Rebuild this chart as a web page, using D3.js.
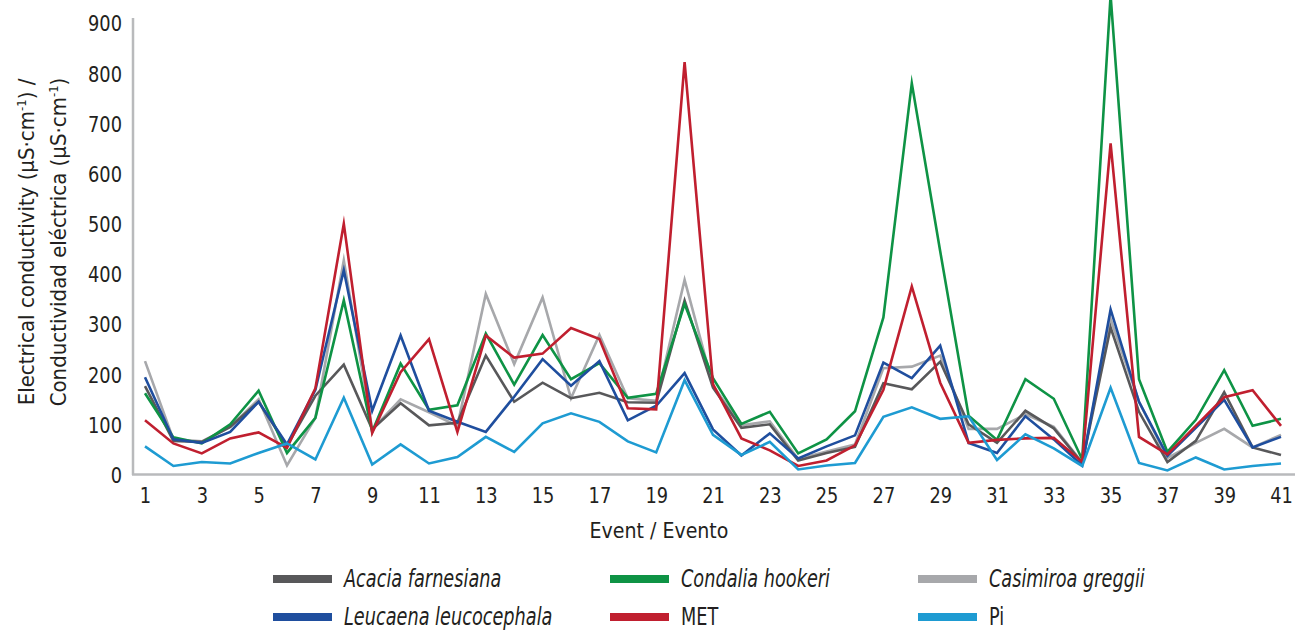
<!DOCTYPE html>
<html>
<head>
<meta charset="utf-8">
<script src="https://cdn.jsdelivr.net/npm/d3@7"></script>
<style>
  html, body { margin: 0; padding: 0; background: #fff; }
  svg { display: block; }
  text { font-family: "DejaVu Sans Condensed", "Liberation Sans Narrow", "Liberation Sans", sans-serif; fill: #231f20; }
</style>
</head>
<body>
<svg id="chart" width="1297" height="633"></svg>
<script>
const events = d3.range(1, 42);
const xTickLabels = d3.range(1, 42, 2);
const yTickLabels = [0, 100, 200, 300, 400, 500, 600, 700, 800, 900];

const acacia = [176, 67, 65, 95, 145, 57, 157, 219, 90, 142, 98, 103, 237, 145, 183, 152, 163, 144, 143, 347, 173, 93, 100, 28, 43, 55, 182, 170, 225, 100, 63, 127, 92, 23, 293, 125, 25, 67, 164, 54, 39];
const condalia = [162, 74, 62, 100, 167, 43, 113, 347, 85, 221, 129, 138, 281, 179, 278, 190, 222, 153, 161, 340, 192, 101, 125, 42, 70, 126, 313, 780, 445, 117, 69, 190, 151, 30, 955, 190, 45, 109, 208, 97, 111];
const casimiroa = [226, 70, 66, 95, 150, 18, 113, 427, 90, 150, 124, 97, 360, 220, 353, 152, 278, 152, 147, 388, 177, 98, 106, 31, 46, 60, 212, 215, 237, 91, 91, 120, 95, 24, 310, 145, 33, 63, 91, 54, 79];
const leucaena = [194, 70, 63, 85, 145, 60, 169, 407, 127, 277, 127, 105, 85, 155, 230, 177, 226, 108, 137, 202, 90, 38, 82, 32, 56, 78, 223, 192, 257, 63, 43, 116, 70, 18, 329, 145, 37, 93, 149, 54, 75];
const met = [108, 62, 42, 72, 84, 53, 172, 500, 83, 204, 270, 85, 277, 233, 241, 292, 270, 132, 130, 822, 180, 72, 48, 17, 28, 58, 169, 375, 183, 63, 69, 72, 73, 25, 660, 75, 40, 97, 154, 168, 97];
const pi = [56, 17, 25, 22, 43, 62, 30, 153, 20, 60, 22, 35, 75, 45, 102, 122, 105, 66, 44, 188, 79, 39, 65, 10, 18, 23, 115, 134, 111, 116, 29, 80, 52, 17, 173, 23, 8, 34, 10, 17, 22];

const seriesNames = ["Acacia farnesiana", "Condalia hookeri", "Casimiroa greggii", "Leucaena leucocephala", "MET", "Pi"];
const seriesColors = ["#58585a", "#0e9345", "#a7a8ab", "#1f4e9e", "#c01f2f", "#1e9bd2"];
const seriesItalic = [true, true, true, true, false, false];
const seriesValues = [acacia, condalia, casimiroa, leucaena, met, pi];
const drawOrder = [2, 0, 1, 3, 4, 5];

const svg = d3.select("#chart");
const x = d3.scaleLinear().domain([1, 41]).range([145, 1281]);
const y = d3.scaleLinear().domain([0, 900]).range([474.5, 23]);

// axes lines
svg.append("line").attr("x1", 133).attr("x2", 133).attr("y1", 18).attr("y2", 475)
  .attr("stroke", "#b9babc").attr("stroke-width", 2.5);
svg.append("line").attr("x1", 132).attr("x2", 1295).attr("y1", 474.5).attr("y2", 474.5)
  .attr("stroke", "#b9babc").attr("stroke-width", 2.5);

// y axis
const yAxis = d3.axisLeft(y).tickValues(yTickLabels).tickSize(0).tickPadding(0).tickFormat(d3.format("d"));
const gy = svg.append("g").attr("transform", "translate(122,0)").call(yAxis);
gy.select(".domain").remove();
gy.selectAll("text").attr("x", 0).attr("font-size", 22).attr("dy", "0.36em")
  .attr("transform", "scale(0.9,1)")
  .style("fill", "#231f20").style("font-family", '"DejaVu Sans Condensed", sans-serif');

// x axis
const xAxis = d3.axisBottom(x).tickValues(xTickLabels).tickSize(0).tickPadding(0).tickFormat(d3.format("d"));
const gx = svg.append("g").attr("transform", "translate(0,495)").call(xAxis);
gx.select(".domain").remove();
gx.selectAll("text").attr("font-size", 22).attr("dy", "0.36em").attr("y", 0)
  .attr("transform", "scale(0.9,1)")
  .style("fill", "#231f20").style("font-family", '"DejaVu Sans Condensed", sans-serif');

// lines
const line = d3.line().x((d, i) => x(events[i])).y(d => y(d));
drawOrder.forEach(k => {
  svg.append("path").datum(seriesValues[k])
    .attr("d", line)
    .attr("fill", "none")
    .attr("stroke", seriesColors[k])
    .attr("stroke-width", 2.6)
    .attr("stroke-linejoin", "miter")
    .attr("stroke-miterlimit", 10);
});

// y title
function yTitle(cx, lead, tail) {
  const t = svg.append("text")
    .attr("transform", `translate(${cx},242) rotate(-90)`)
    .attr("text-anchor", "middle")
    .attr("font-size", 22);
  t.append("tspan").text(lead + " (µS·cm");
  t.append("tspan").attr("font-size", 13).attr("dy", -8).text("-1");
  t.append("tspan").attr("dy", 8).text(")" + tail);
}
yTitle(34, "Electrical conductivity", " /");
yTitle(66, "Conductividad eléctrica", "");

// x title
svg.append("text").attr("transform", "translate(659,538) scale(0.96,1)").attr("text-anchor", "middle")
  .attr("font-size", 22).text("Event / Evento");

// legend
const legendPos = [[273, 579], [610, 579], [918, 579], [273, 617], [610, 617], [918, 617]];
seriesNames.forEach((name, k) => {
  const [lx, ly] = legendPos[k];
  svg.append("rect").attr("x", lx).attr("y", ly - 4).attr("width", 59).attr("height", 8)
    .attr("fill", seriesColors[k]);
  svg.append("text").attr("transform", `translate(${lx + 71},${ly + 8}) scale(0.82,1)`)
    .attr("font-size", 24)
    .attr("font-style", seriesItalic[k] ? "italic" : "normal").text(name);
});
</script>
</body>
</html>
